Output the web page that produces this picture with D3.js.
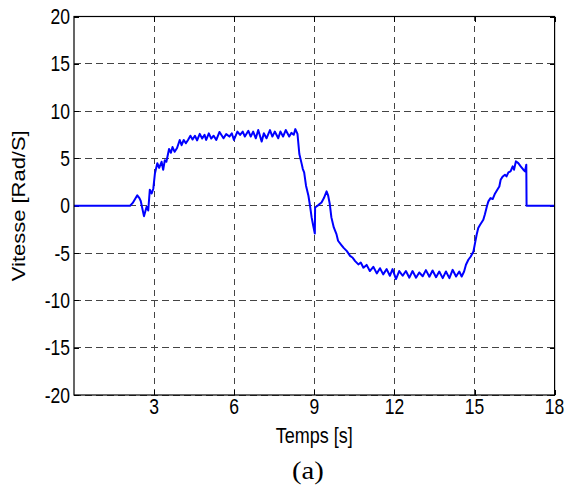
<!DOCTYPE html>
<html>
<head>
<meta charset="utf-8">
<script src="https://cdn.jsdelivr.net/npm/d3@7/dist/d3.min.js"></script>
<style>
  html, body { margin: 0; padding: 0; background: #fff; }
  svg { display: block; }
  text.sans { font-family: "Liberation Sans", Arial, sans-serif; fill: #000; }
  text.serif { font-family: "Liberation Serif", "Times New Roman", Tinos, serif; font-weight: normal; fill: #000; }
</style>
</head>
<body>
<svg id="chart" width="569" height="491"></svg>
<script>
// ---- data ----
const time = [
  0, 2.1, 2.2, 2.37, 2.45, 2.5, 2.62, 2.72, 2.78, 2.84, 2.91, 2.97, 3.03, 3.12, 3.19, 3.28, 3.34, 3.4, 3.46,
  3.56, 3.63, 3.69, 3.77, 3.86, 3.96, 4.03, 4.11, 4.19, 4.27, 4.36, 4.44, 4.53, 4.61, 4.71, 4.8, 4.89, 4.95,
  5.05, 5.14, 5.23, 5.33, 5.45, 5.6, 5.7, 5.82, 5.91, 5.99, 6.12, 6.22, 6.32, 6.4, 6.53, 6.62, 6.71, 6.81,
  6.9, 7.03, 7.11, 7.21, 7.34, 7.43, 7.52, 7.65, 7.73, 7.83, 7.93, 8.06, 8.14, 8.23, 8.29, 8.37, 8.44, 8.53,
  8.57, 8.62, 8.69, 8.78, 8.84, 8.9, 8.96, 9.02, 9.03, 9.15, 9.27, 9.36, 9.46, 9.52, 9.58, 9.64, 9.73, 9.83,
  9.89, 10.0, 10.1, 10.22, 10.34, 10.44, 10.53, 10.65, 10.74, 10.84, 10.96, 11.08, 11.21, 11.34, 11.46,
  11.58, 11.71, 11.83, 11.93, 12.06, 12.18, 12.31, 12.43, 12.56, 12.68, 12.81, 12.93, 13.06, 13.18, 13.31,
  13.43, 13.56, 13.68, 13.81, 13.93, 14.06, 14.18, 14.31, 14.43, 14.52, 14.61, 14.68, 14.77, 14.86, 14.96,
  15.02, 15.08, 15.14, 15.21, 15.33, 15.39, 15.47, 15.52, 15.6, 15.68, 15.77, 15.86, 15.93, 15.98, 16.06,
  16.14, 16.2, 16.27, 16.35, 16.43, 16.48, 16.55, 16.64, 16.73, 16.83, 16.89, 16.94, 16.95, 18
];
const speed = [
  0, 0, 0.3, 1.1, 0.8, 0.5, -1.1, -0.1, -0.5, 1.7, 1.3, 1.8, 3.4, 4.5, 4.0, 4.65, 3.8, 4.8, 4.65,
  6.0, 5.6, 6.2, 5.7, 6.1, 6.95, 6.4, 6.95, 6.6, 6.95, 7.4, 7.0, 7.4, 6.9, 7.6, 7.1, 7.5, 6.95,
  7.65, 7.1, 7.4, 6.95, 7.8, 7.13, 7.57, 7.31, 7.66, 6.95, 7.84, 7.48, 7.84, 7.31, 7.92, 7.31, 7.84, 7.13,
  8.0, 6.78, 7.66, 7.13, 8.0, 7.31, 7.84, 7.13, 7.84, 7.31, 8.0, 7.31, 7.7, 7.5, 8.1, 7.6, 5.47, 4.4,
  3.88, 3.52, 2.12, 1.06, 0.0, -1.23, -2.12, -2.93, -0.18, 0.07, 0.35, 0.81, 1.52, 1.06, 0.18, -1.23, -2.29, -3.0,
  -3.7, -4.1, -4.45, -4.8, -5.3, -5.5, -5.85, -6.2, -6.0, -6.55, -6.25, -6.9, -6.45, -7.15, -6.6,
  -7.25, -6.7, -7.4, -6.7, -7.75, -6.9, -7.4, -6.9, -7.6, -6.9, -7.6, -7.05, -7.45, -6.8, -7.5,
  -6.84, -7.55, -6.95, -7.65, -6.95, -7.65, -6.77, -7.48, -6.95, -7.48, -6.95, -6.24, -5.71, -5.36, -4.83,
  -3.95, -3.07, -2.36, -2.01, -1.48, -0.9, 0.0, 0.46, 0.81, 0.71, 1.3, 1.72, 2.04, 2.75, 3.1,
  3.28, 3.1, 3.52, 3.63, 4.16, 3.81, 4.69, 4.51, 4.16, 3.81, 3.63, 4.34, 0, 0
];
const xTicks = [3, 6, 9, 12, 15, 18];
const yTicks = [-20, -15, -10, -5, 0, 5, 10, 15, 20];
const xDomain = [0, 18];
const yDomain = [-20, 20];
const xLabel = "Temps [s]";
const yLabel = "Vitesse [Rad/S]";
const caption = "(a)";

// ---- layout ----
const L = 74, R = 554.6, T = 16.5, B = 395;
const svg = d3.select("#chart");
const x = d3.scaleLinear().domain(xDomain).range([L, R]);
const y = d3.scaleLinear().domain(yDomain).range([B, T]);

svg.append("rect").attr("x", 0).attr("y", 0).attr("width", 569).attr("height", 491).attr("fill", "#fff");

// grid
const grid = svg.append("g").attr("stroke", "#444").attr("stroke-width", 1)
  .attr("stroke-dasharray", "6.5,4.5").attr("shape-rendering", "crispEdges");
grid.selectAll("line.gx").data(xTicks).join("line")
  .attr("x1", d => x(d)).attr("x2", d => x(d)).attr("y1", B).attr("y2", T);
grid.selectAll("line.gy").data(yTicks).join("line")
  .attr("y1", d => y(d)).attr("y2", d => y(d)).attr("x1", L).attr("x2", R);

// axes (inward ticks, no labels)
const tk = 5;
function styleAxis(g) {
  g.select(".domain").remove();
  g.selectAll("line").attr("stroke", "#000").attr("shape-rendering", "crispEdges");
  g.selectAll("text").remove();
}
svg.append("g").attr("transform", `translate(0,${B})`)
  .call(d3.axisBottom(x).tickValues(xTicks).tickSize(-tk)).call(styleAxis);
svg.append("g").attr("transform", `translate(0,${T})`)
  .call(d3.axisTop(x).tickValues(xTicks).tickSize(-tk)).call(styleAxis);
svg.append("g").attr("transform", `translate(${L},0)`)
  .call(d3.axisLeft(y).tickValues(yTicks).tickSize(-tk)).call(styleAxis);
svg.append("g").attr("transform", `translate(${R},0)`)
  .call(d3.axisRight(y).tickValues(yTicks).tickSize(-tk)).call(styleAxis);

// data line
const pts = time.map((t, i) => [t, speed[i]]);
svg.append("path").datum(pts)
  .attr("fill", "none").attr("stroke", "#0000ff").attr("stroke-width", 2)
  .attr("stroke-linejoin", "round")
  .attr("d", d3.line().x(d => x(d[0])).y(d => y(d[1])));

// frame
svg.append("rect").attr("x", L).attr("y", T).attr("width", R - L).attr("height", B - T)
  .attr("fill", "none").attr("stroke", "#000").attr("stroke-width", 1.2);

// tick labels
const fs = 17.5, sy = 1.22;
svg.append("g").selectAll("text").data(xTicks).join("text").attr("class", "sans")
  .attr("transform", d => `translate(${x(d)},414) scale(1,${sy})`)
  .attr("text-anchor", "middle").attr("font-size", fs).text(d => d);
svg.append("g").selectAll("text").data(yTicks).join("text").attr("class", "sans")
  .attr("transform", d => `translate(70,${y(d) + 7.5}) scale(1,${sy})`)
  .attr("text-anchor", "end").attr("font-size", fs).text(d => d);

// axis titles
svg.append("text").attr("class", "sans").attr("transform", `translate(${(L + R) / 2},443) scale(1,${sy})`)
  .attr("text-anchor", "middle").attr("font-size", 18).text(xLabel);
svg.append("text").attr("class", "sans").attr("transform", `translate(25,${y(0)}) rotate(-90) scale(${sy},1)`)
  .attr("text-anchor", "middle").attr("font-size", 18).text(yLabel);

// caption
svg.append("text").attr("class", "serif").attr("transform", `translate(308,479) scale(1.15,1)`)
  .attr("text-anchor", "middle").attr("font-size", 25).text(caption);
</script>
</body>
</html>
